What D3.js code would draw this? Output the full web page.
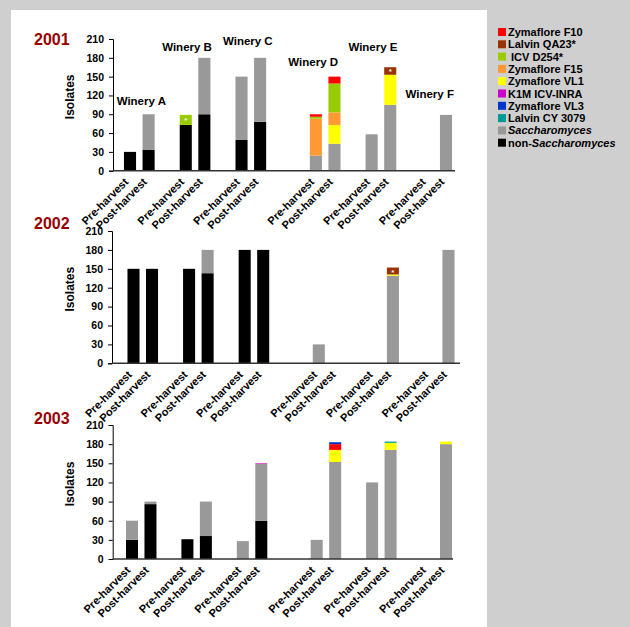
<!DOCTYPE html>
<html>
<head>
<meta charset="utf-8">
<script src="https://cdn.jsdelivr.net/npm/d3@7"></script>
<style>
  body { margin: 0; background: #cfcfcf; }
  text { font-family: "Liberation Sans", Arial, sans-serif; font-weight: bold; }
</style>
</head>
<body>
<div id="chart"></div>
<script>
// isolates per winery, pre/post harvest, stacked by yeast type

const wineries = ["Winery A", "Winery B", "Winery C", "Winery D", "Winery E", "Winery F"];
const stages = ["Pre-harvest", "Post-harvest"];
const yTicks = [0, 30, 60, 90, 120, 150, 180, 210];

// 2001 (order: A pre, A post, B pre, B post, ... F post)
const nonSacch2001 = [30, 33, 73, 90, 49, 78, 0, 0, 0, 0, 0, 0];
const sacch2001    = [0, 57, 0, 90, 101, 102, 24, 43, 58, 105, 0, 89];
const vl1_2001     = [0, 0, 0, 0, 0, 0, 0, 30, 0, 48, 0, 0];
const f15_2001     = [0, 0, 0, 0, 0, 0, 59, 20, 0, 0, 0, 0];
const d254_2001    = [0, 0, 16, 0, 0, 0, 3, 46, 0, 0, 0, 0];
const qa23_2001    = [0, 0, 0, 0, 0, 0, 0, 0, 0, 12, 0, 0];
const f10_2001     = [0, 0, 0, 0, 0, 0, 4, 11, 0, 0, 0, 0];

// 2002
const nonSacch2002 = [150, 150, 150, 143, 180, 180, 0, 0, 0, 0, 0, 0];
const sacch2002    = [0, 0, 0, 37, 0, 0, 30, 0, 0, 139, 0, 180];
const vl1_2002     = [0, 0, 0, 0, 0, 0, 0, 0, 0, 2, 0, 0];
const qa23_2002    = [0, 0, 0, 0, 0, 0, 0, 0, 0, 11, 0, 0];

// 2003
const nonSacch2003 = [30, 86, 31, 36, 0, 60, 0, 0, 0, 0, 0, 0];
const sacch2003    = [30, 4, 0, 54, 28, 89, 30, 152, 120, 171, 0, 180];
const vl1_2003     = [0, 0, 0, 0, 0, 0, 0, 19, 0, 11, 0, 4];
const f10_2003     = [0, 0, 0, 0, 0, 0, 0, 9, 0, 0, 0, 0];
const k1m_2003     = [0, 0, 0, 0, 0, 1, 0, 0, 0, 0, 0, 0];
const vl3_2003     = [0, 0, 0, 0, 0, 0, 0, 3, 0, 0, 0, 0];
const cy_2003      = [0, 0, 0, 0, 0, 0, 0, 0, 0, 2, 0, 0];

const yearData = {
    "2001": { nonSacch: nonSacch2001, sacch: sacch2001, vl1: vl1_2001, f15: f15_2001, d254: d254_2001, qa23: qa23_2001, f10: f10_2001 },
    "2002": { nonSacch: nonSacch2002, sacch: sacch2002, vl1: vl1_2002, qa23: qa23_2002 },
    "2003": { nonSacch: nonSacch2003, sacch: sacch2003, vl1: vl1_2003, f10: f10_2003, k1m: k1m_2003, vl3: vl3_2003, cy: cy_2003 }
};

// segments carrying a white asterisk: [year, bar index, series]
const starMarks = [["2001", 2, "d254"], ["2001", 9, "qa23"], ["2002", 9, "qa23"]];

const seriesNames = {
    f10: "Zymaflore F10", qa23: "Lalvin QA23*", d254: " ICV D254*", f15: "Zymaflore F15",
    vl1: "Zymaflore VL1", k1m: "K1M ICV-INRA", vl3: "Zymaflore VL3", cy: "Lalvin CY 3079",
    sacch: "Saccharomyces", nonSacch: "non-Saccharomyces"
};
const colors = {
    f10: "#ff0000", qa23: "#993300", d254: "#99cc00", f15: "#ff9933", vl1: "#ffff00",
    k1m: "#cc00cc", vl3: "#0033cc", cy: "#009999", sacch: "#999999", nonSacch: "#000000"
};
const stackOrder = ["nonSacch", "sacch", "vl1", "f15", "d254", "qa23", "f10", "k1m", "vl3", "cy"];
const legendOrder = ["f10", "qa23", "d254", "f15", "vl1", "k1m", "vl3", "cy", "sacch", "nonSacch"];

// slots along x, blanks are spacer slots
const slots = [];
wineries.forEach((w, i) => {
    stages.forEach(s => slots.push(w + "|" + s));
    if (i < wineries.length - 1) slots.push("gap" + i);
    if (i === 2) slots.push("gap2b");
});

// label heights (in isolates) for the winery names in 2001
const wineryLabelY = [105, 191, 200, 167, 191, 116];
const wineryLabelDx = [2, -8, -3, -12, -8, -7];

const width = 630, height = 627;

const panels = [
    { year: "2001", top: 39, bottom: 170.7, axisX: 113, axisEnd: 455, first: 130, last: 446, yearY: 45 },
    { year: "2002", top: 231, bottom: 363.3, axisX: 112, axisEnd: 460, first: 133.5, last: 448.5, yearY: 229 },
    { year: "2003", top: 425, bottom: 559, axisX: 112.7, axisEnd: 453, first: 132, last: 446, yearY: 424 }
];

const svg = d3.select("#chart")
    .append("svg")
    .attr("width", width)
    .attr("height", height);

svg.append("rect").attr("width", width).attr("height", height).attr("fill", "#cfcfcf");
svg.append("rect").attr("x", 11).attr("y", 10).attr("width", 476).attr("height", 617).attr("fill", "white");

panels.forEach((p, pi) => {
    const data = yearData[p.year];
    const rows = [];
    wineries.forEach((w, i) => {
        stages.forEach((s, j) => {
            const k = i * 2 + j;
            const row = { slot: w + "|" + s, winery: w, stage: s, idx: k };
            stackOrder.forEach(key => row[key] = data[key] ? data[key][k] : 0);
            rows.push(row);
        });
    });

    const step = (p.last - p.first) / (slots.length - 1);
    const x = d3.scaleBand()
        .domain(slots)
        .range([p.first - step / 2, p.last + step / 2])
        .paddingInner(0.35)
        .paddingOuter(0.175);

    const y = d3.scaleLinear()
        .domain([0, 210])
        .range([p.bottom, p.top]);

    const stacked = d3.stack().keys(stackOrder)(rows);

    const g = svg.append("g");

    g.selectAll("g.layer")
        .data(stacked)
        .join("g")
        .attr("class", "layer")
        .attr("fill", d => colors[d.key])
        .selectAll("rect")
        .data(d => d.filter(v => v[1] > v[0]))
        .join("rect")
        .attr("x", d => x(d.data.slot))
        .attr("width", x.bandwidth())
        .attr("y", d => y(d[1]))
        .attr("height", d => y(d[0]) - y(d[1]));

    // white asterisk marks
    const marks = starMarks.filter(m => m[0] === p.year).map(m => {
        const layer = stacked.find(s => s.key === m[2]);
        return layer[m[1]];
    });
    g.selectAll("text.star")
        .data(marks)
        .join("text")
        .attr("class", "star")
        .attr("x", d => x(d.data.slot) + x.bandwidth() / 2)
        .attr("y", d => (y(d[0]) + y(d[1])) / 2 + 3.5)
        .attr("text-anchor", "middle")
        .attr("fill", "#f4f4f4")
        .attr("font-size", "8px")
        .text("*");

    // y axis
    const yAxis = g.append("g")
        .attr("transform", `translate(${p.axisX},0)`)
        .call(d3.axisLeft(y).tickValues(yTicks).tickSize(4).tickPadding(5));
    yAxis.select(".domain").attr("stroke", "#000");
    yAxis.selectAll("text")
        .attr("font-size", "10.5px")
        .attr("font-family", "Liberation Sans, Arial, sans-serif")
        .attr("font-weight", "bold")
        .attr("fill", "#000");

    // x axis line
    g.append("line")
        .attr("x1", p.axisX).attr("x2", p.axisEnd)
        .attr("y1", y(0)).attr("y2", y(0))
        .attr("stroke", "#333")
        .attr("stroke-width", 1.5);

    // x labels
    g.selectAll("text.xlab")
        .data(rows)
        .join("text")
        .attr("class", "xlab")
        .attr("transform", d => `translate(${x(d.slot) + x.bandwidth() / 2 - 1},${y(0) + 12}) rotate(-45)`)
        .attr("text-anchor", "end")
        .attr("font-size", "11px")
        .text(d => d.stage);

    // year
    g.append("text")
        .attr("x", 34).attr("y", p.yearY)
        .attr("fill", "#990000")
        .attr("font-size", "16px")
        .text(p.year);

    // y title
    g.append("text")
        .attr("transform", `translate(74,${(p.top + p.bottom) / 2 - 8}) rotate(-90)`)
        .attr("text-anchor", "middle")
        .attr("font-size", "12px")
        .text("Isolates");

    if (pi === 0) {
        g.selectAll("text.winery")
            .data(wineries)
            .join("text")
            .attr("class", "winery")
            .attr("x", (w, i) => (x(w + "|Pre-harvest") + x(w + "|Post-harvest") + x.bandwidth()) / 2 + wineryLabelDx[i])
            .attr("y", (w, i) => y(wineryLabelY[i]))
            .attr("text-anchor", "middle")
            .attr("font-size", "11.5px")
            .text(w => w);
    }
});

// legend
const legend = svg.append("g").attr("transform", "translate(498,28)");
const items = legend.selectAll("g")
    .data(legendOrder)
    .join("g")
    .attr("transform", (d, i) => `translate(0,${i * 12.3})`);
items.append("rect")
    .attr("width", 8).attr("height", 8)
    .attr("fill", d => colors[d]);
const ltext = items.append("text")
    .attr("x", 10).attr("y", 8)
    .attr("font-size", "11px")
    .attr("xml:space", "preserve");
ltext.each(function (d) {
    const t = d3.select(this);
    if (d === "sacch") {
        t.append("tspan").attr("font-style", "italic").text("Saccharomyces");
    } else if (d === "nonSacch") {
        t.append("tspan").text("non-");
        t.append("tspan").attr("font-style", "italic").text("Saccharomyces");
    } else {
        t.text(seriesNames[d]);
    }
});
</script>
</body>
</html>
